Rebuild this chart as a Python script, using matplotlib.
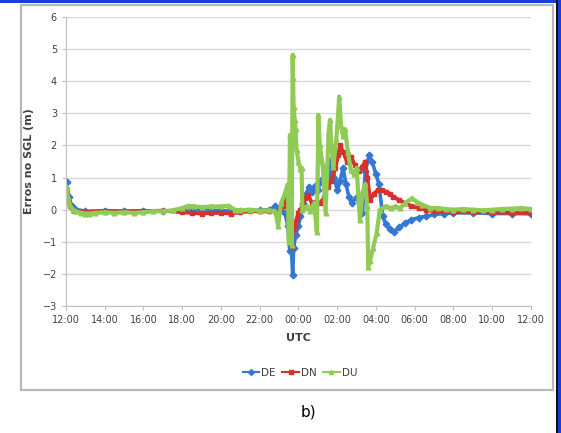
import matplotlib.pyplot as plt
from matplotlib.patches import Rectangle

plt.rcParams['font.family'] = ['Liberation Sans Narrow', 'DejaVu Sans']

# horas desde as 12:00 UTC, erro (m)
de_pts = [(0.0, 0.5), (0.03, 0.87), (0.15, 0.4), (0.3, 0.1), (0.5, 0.0), (1, -0.05), (2, -0.03),
          (3, -0.05), (4, -0.03), (5, -0.05), (6, -0.02), (7, 0.0), (8, -0.03), (9, -0.05),
          (10, -0.02), (10.5, 0.0), (10.8, 0.1), (11.0, 0.05), (11.3, -0.1), (11.45, -0.5),
          (11.55, -1.3), (11.62, -1.0), (11.7, -2.03), (11.75, -1.2), (11.85, -0.8), (12.0, -0.5),
          (12.1, -0.2), (12.25, 0.2), (12.4, 0.5), (12.55, 0.72), (12.7, 0.55), (12.85, 0.75),
          (13.0, 0.6), (13.15, 0.92), (13.3, 0.8), (13.45, 1.2), (13.6, 1.0), (13.7, 1.55),
          (13.85, 1.0), (14.0, 0.6), (14.15, 0.9), (14.3, 1.3), (14.45, 0.8), (14.6, 0.4),
          (14.75, 0.2), (15.0, 0.4), (15.3, -0.1), (15.45, 1.2), (15.65, 1.7), (15.8, 1.5),
          (16.0, 1.1), (16.15, 0.8), (16.35, -0.2), (16.5, -0.45), (16.7, -0.6), (16.95, -0.68),
          (17.2, -0.55), (17.5, -0.42), (17.8, -0.32), (18.2, -0.25), (18.6, -0.2), (19, -0.15),
          (19.5, -0.12), (20, -0.1), (21, -0.1), (22, -0.12), (23, -0.12), (24, -0.13)]

dn_pts = [(0, 0.62), (0.05, 0.5), (0.2, 0.1), (0.4, -0.05), (0.7, -0.05), (1, -0.08), (2, -0.05),
          (3, -0.05), (4, -0.05), (5, -0.03), (6, -0.08), (6.5, -0.1), (7, -0.12), (7.5, -0.1),
          (8, -0.1), (8.5, -0.12), (9, -0.08), (9.5, -0.05), (10, -0.05), (10.5, -0.05),
          (11, -0.03), (11.3, 0.1), (11.45, 0.61), (11.55, 0.3), (11.65, -1.15), (11.72, -0.6),
          (11.8, -0.5), (11.9, -0.3), (12.0, -0.1), (12.1, 0.0), (12.2, 0.1), (12.35, 0.35),
          (12.5, 0.45), (12.7, 0.2), (12.9, 0.25), (13.1, 0.2), (13.3, 0.35), (13.5, 0.72),
          (13.7, 0.9), (13.9, 1.3), (14.05, 1.7), (14.15, 2.0), (14.3, 1.8), (14.5, 1.5),
          (14.7, 1.65), (14.9, 1.4), (15.1, 1.2), (15.3, 1.34), (15.45, 1.5), (15.55, 1.0),
          (15.7, 0.3), (15.9, 0.5), (16.1, 0.61), (16.3, 0.62), (16.5, 0.56), (16.7, 0.5),
          (16.9, 0.4), (17.2, 0.3), (17.5, 0.2), (17.8, 0.12), (18.2, 0.05), (18.6, 0.0),
          (19, -0.05), (19.5, -0.05), (20, -0.07), (21, -0.08), (22, -0.08), (23, -0.1), (24, -0.1)]

du_pts = [(0, 0.3), (0.05, 0.72), (0.1, 0.4), (0.2, 0.15), (0.35, 0.0), (0.5, -0.05), (0.8, -0.1),
          (1.0, -0.12), (1.2, -0.12), (1.5, -0.1), (2, -0.08), (2.5, -0.1), (3, -0.08), (3.5, -0.1),
          (4, -0.08), (4.5, -0.05), (5, -0.05), (5.5, -0.02), (6, 0.05), (6.3, 0.12), (6.6, 0.1),
          (7, 0.08), (7.5, 0.1), (8, 0.1), (8.4, 0.12), (8.7, 0.0), (9, -0.02), (9.5, 0.0),
          (10, -0.03), (10.5, -0.02), (10.8, -0.05), (10.95, -0.5), (11.1, 0.2), (11.3, 0.5),
          (11.45, 0.8), (11.5, -1.0), (11.56, 2.33), (11.6, 0.6), (11.65, -1.1), (11.7, 4.82),
          (11.72, 4.1), (11.75, 3.2), (11.8, 2.8), (11.85, 2.5), (11.9, 1.86), (12.0, 1.5),
          (12.1, 1.28), (12.16, 1.3), (12.2, 0.0), (12.3, 0.05), (12.45, 0.1), (12.6, -0.05),
          (12.8, 0.2), (12.95, -0.7), (13.0, 1.5), (13.02, 2.95), (13.1, 2.0), (13.25, 1.4),
          (13.4, -0.1), (13.55, 2.4), (13.63, 2.8), (13.7, 2.0), (13.8, 1.34), (13.95, 2.2),
          (14.05, 3.0), (14.1, 3.52), (14.2, 2.6), (14.3, 2.3), (14.4, 2.5), (14.55, 1.8),
          (14.7, 1.24), (14.85, 1.1), (15.0, 1.3), (15.17, -0.32), (15.3, 0.52), (15.45, 0.8),
          (15.55, 0.1), (15.6, -1.77), (15.7, -1.6), (15.85, -1.2), (16.03, -0.74), (16.2, 0.0),
          (16.5, 0.1), (16.8, 0.05), (17.0, 0.1), (17.24, 0.05), (17.5, 0.2), (17.84, 0.35),
          (18.1, 0.25), (18.4, 0.15), (18.8, 0.05), (19.2, 0.05), (19.6, 0.02), (20, 0.0),
          (20.5, 0.02), (21, 0.0), (21.5, -0.02), (22, 0.0), (22.5, 0.02), (23, 0.03),
          (23.5, 0.05), (24, 0.02)]

xticks = list(range(0, 25, 2))
xlabels = ['12:00', '14:00', '16:00', '18:00', '20:00', '22:00', '00:00',
           '02:00', '04:00', '06:00', '08:00', '10:00', '12:00']

fig = plt.figure(figsize=(5.61, 4.33), dpi=100)
ax = fig.add_axes([0.1176, 0.2933, 0.8289, 0.6674])

# moldura do gráfico e borda azul
fig.patches.append(Rectangle((21 / 561, 1 - 390 / 433), 532 / 561, 385 / 433,
                             transform=fig.transFigure, fill=False,
                             edgecolor='#b8b8b8', linewidth=1.6))
fig.patches.append(Rectangle((0, 1 - 3 / 433), 1, 3 / 433, transform=fig.transFigure,
                             facecolor='#1a3cd8', edgecolor='none'))
fig.patches.append(Rectangle((557 / 561, 0), 4 / 561, 1, transform=fig.transFigure,
                             facecolor='#1a3cd8', edgecolor='none'))
fig.patches.append(Rectangle((556 / 561, 0), 1.5 / 561, 1, transform=fig.transFigure,
                             facecolor='#101010', edgecolor='none'))

series = [('DE', de_pts, '#3478d4', 'D', 2.6),
          ('DN', dn_pts, '#d8312c', 's', 2.8),
          ('DU', du_pts, '#8fcb55', '^', 3.0)]
for name, pts, color, mk, lw in series:
    h, v = zip(*pts)
    ax.plot(h, v, color=color, linewidth=lw, marker=mk, markersize=3.4, label=name)

ax.set_xlim(0, 24)
ax.set_ylim(-3, 6)
ax.set_xticks(xticks)
ax.set_xticklabels(xlabels)
ax.set_yticks(range(-3, 7))
ax.grid(True, axis='y', color='#d9d9d9', linewidth=1.0)
ax.set_axisbelow(True)
for s in ['top', 'right']:
    ax.spines[s].set_visible(False)
for s in ['left', 'bottom']:
    ax.spines[s].set_color('#bfbfbf')
ax.tick_params(axis='both', labelsize=7, colors='#bfbfbf', labelcolor='#404040', length=3)

ax.set_xlabel('UTC', fontsize=8, fontweight='bold', color='#404040', labelpad=6)
ax.set_ylabel('Erros no SGL (m)', fontsize=8, fontweight='bold', color='#404040', labelpad=6)

leg = fig.legend(loc='center', bbox_to_anchor=(300 / 561, 1 - 373 / 433), ncol=3,
                 frameon=False, fontsize=7.5, handlelength=1.6, handletextpad=0.2,
                 columnspacing=0.6)
for t in leg.get_texts():
    t.set_color('#404040')
for hd in leg.legend_handles:
    hd.set_linewidth(1.5)
    hd.set_markersize(3)

fig.text(308 / 561, 1 - 412 / 433, 'b)', ha='center', va='center', fontsize=11)

fig.savefig('out.png', dpi=100)
